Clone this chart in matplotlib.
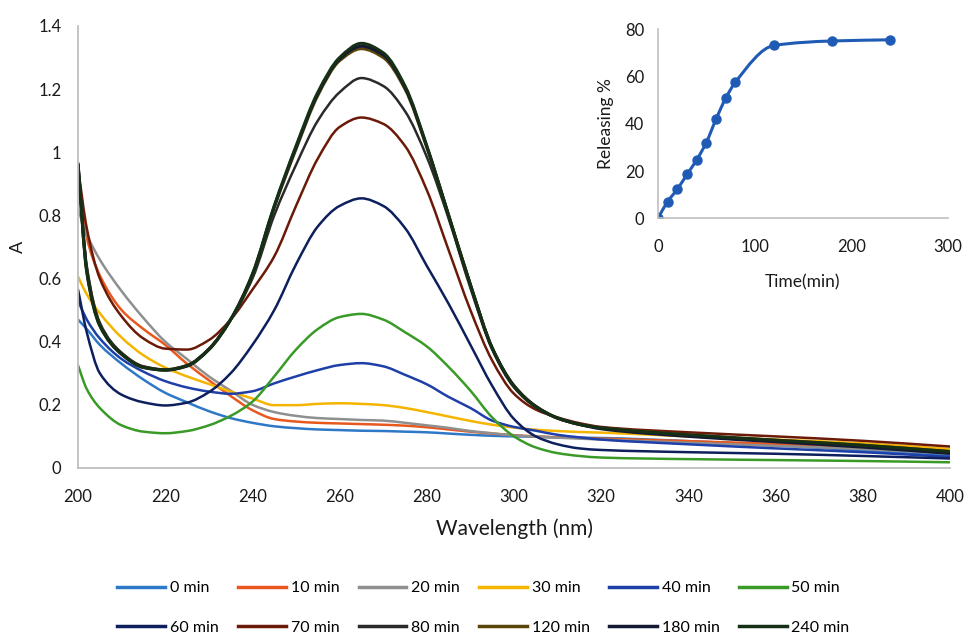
import matplotlib
matplotlib.use("Agg")
import numpy as np
import matplotlib.pyplot as plt
from matplotlib.ticker import FuncFormatter, MultipleLocator
from matplotlib.path import Path
from matplotlib.patches import PathPatch
from matplotlib.lines import Line2D

plt.rcParams['font.family'] = ['Lato', 'DejaVu Sans']

wavelength = [200, 202, 205, 210, 215, 220, 225, 230, 235, 240, 245, 250, 255, 260, 265,
              270, 275, 280, 285, 290, 295, 300, 305, 310, 315, 320, 340, 360, 380, 400]

a_0 = [0.47, 0.44, 0.39, 0.33, 0.28, 0.238, 0.208, 0.18, 0.158, 0.143, 0.132, 0.126, 0.122, 0.12, 0.118,
       0.117, 0.115, 0.113, 0.109, 0.105, 0.102, 0.1, 0.099, 0.097, 0.096, 0.095, 0.085, 0.072, 0.055, 0.038]
a_10 = [0.91, 0.73, 0.61, 0.5, 0.44, 0.39, 0.33, 0.278, 0.228, 0.183, 0.155, 0.147, 0.143, 0.141, 0.139,
        0.137, 0.134, 0.129, 0.122, 0.115, 0.109, 0.104, 0.1, 0.097, 0.095, 0.093, 0.085, 0.076, 0.066, 0.052]
a_20 = [0.82, 0.74, 0.66, 0.56, 0.475, 0.4, 0.345, 0.29, 0.245, 0.2, 0.177, 0.165, 0.158, 0.155, 0.152,
        0.15, 0.143, 0.135, 0.127, 0.117, 0.11, 0.103, 0.099, 0.096, 0.093, 0.09, 0.08, 0.07, 0.06, 0.045]
a_30 = [0.606, 0.55, 0.49, 0.413, 0.357, 0.318, 0.29, 0.266, 0.242, 0.22, 0.199, 0.199, 0.203, 0.205, 0.203,
        0.199, 0.19, 0.177, 0.163, 0.149, 0.137, 0.128, 0.121, 0.117, 0.114, 0.112, 0.1, 0.09, 0.078, 0.06]
a_40 = [0.53, 0.47, 0.41, 0.345, 0.305, 0.275, 0.255, 0.242, 0.235, 0.243, 0.268, 0.29, 0.31, 0.326, 0.332,
        0.322, 0.295, 0.265, 0.225, 0.19, 0.15, 0.13, 0.118, 0.105, 0.097, 0.09, 0.075, 0.062, 0.05, 0.035]
a_50 = [0.325, 0.25, 0.19, 0.135, 0.115, 0.11, 0.117, 0.135, 0.165, 0.21, 0.29, 0.375, 0.44, 0.478, 0.488,
        0.47, 0.43, 0.385, 0.32, 0.245, 0.16, 0.1, 0.065, 0.047, 0.038, 0.033, 0.028, 0.025, 0.022, 0.018]
a_60 = [0.565, 0.43, 0.3, 0.232, 0.208, 0.198, 0.207, 0.24, 0.3, 0.39, 0.5, 0.645, 0.765, 0.83, 0.854,
        0.83, 0.76, 0.64, 0.52, 0.39, 0.26, 0.155, 0.1, 0.075, 0.062, 0.057, 0.05, 0.045, 0.038, 0.03]
a_70 = [0.95, 0.76, 0.6, 0.48, 0.41, 0.378, 0.375, 0.405, 0.47, 0.565, 0.67, 0.83, 0.98, 1.08, 1.11,
        1.09, 1.02, 0.88, 0.69, 0.5, 0.34, 0.235, 0.185, 0.16, 0.142, 0.13, 0.113, 0.1, 0.086, 0.068]
a_80 = [0.96, 0.64, 0.46, 0.365, 0.322, 0.312, 0.326, 0.378, 0.47, 0.6, 0.8, 0.96, 1.1, 1.19, 1.235,
        1.21, 1.13, 0.985, 0.79, 0.57, 0.375, 0.255, 0.192, 0.157, 0.138, 0.126, 0.104, 0.087, 0.07, 0.05]
a_120 = [0.96, 0.63, 0.455, 0.362, 0.32, 0.311, 0.324, 0.376, 0.47, 0.61, 0.825, 1.01, 1.18, 1.29, 1.328,
         1.3, 1.2, 1.015, 0.8, 0.58, 0.38, 0.26, 0.195, 0.158, 0.138, 0.127, 0.105, 0.088, 0.072, 0.052]
a_180 = [0.962, 0.625, 0.452, 0.361, 0.319, 0.31, 0.323, 0.375, 0.47, 0.612, 0.828, 1.015, 1.185, 1.295, 1.336,
         1.308, 1.205, 1.018, 0.8, 0.58, 0.38, 0.26, 0.195, 0.158, 0.138, 0.124, 0.1, 0.083, 0.066, 0.046]
a_240 = [0.965, 0.62, 0.45, 0.36, 0.318, 0.31, 0.323, 0.375, 0.47, 0.615, 0.83, 1.02, 1.19, 1.3, 1.345,
         1.315, 1.21, 1.02, 0.8, 0.58, 0.38, 0.26, 0.195, 0.158, 0.138, 0.127, 0.105, 0.088, 0.072, 0.052]

series_labels = ['0 min', '10 min', '20 min', '30 min', '40 min', '50 min',
                 '60 min', '70 min', '80 min', '120 min', '180 min', '240 min']
series_values = [a_0, a_10, a_20, a_30, a_40, a_50, a_60, a_70, a_80, a_120, a_180, a_240]
series_colors = ['#2e78c8', '#e8581e', '#8f8f8f', '#f5b400', '#1f3fa8', '#3a9a28',
                 '#0d1f5c', '#6b1a08', '#2a2a2a', '#5c4508', '#141a33', '#163016']

release_time = [0, 10, 20, 30, 40, 50, 60, 70, 80, 120, 180, 240]
release_pct = [0, 7.1, 12.3, 18.6, 24.7, 32.1, 41.9, 50.8, 57.6, 73.2, 75.1, 75.6]


def smooth_path(xs, ys):
    """Bezier path through the data points (smoothed line, like a spreadsheet)."""
    x = np.asarray(xs, float)
    y = np.asarray(ys, float)
    h = np.diff(x)
    d = np.diff(y) / h
    m = np.zeros_like(x)
    m[0], m[-1] = d[0], d[-1]
    for i in range(1, len(x) - 1):
        if d[i - 1] * d[i] <= 0:
            m[i] = 0.0
        else:
            w1 = 2 * h[i] + h[i - 1]
            w2 = h[i] + 2 * h[i - 1]
            m[i] = (w1 + w2) / (w1 / d[i - 1] + w2 / d[i])
    verts = [(x[0], y[0])]
    codes = [Path.MOVETO]
    for i in range(len(x) - 1):
        verts += [(x[i] + h[i] / 3, y[i] + m[i] * h[i] / 3),
                  (x[i + 1] - h[i] / 3, y[i + 1] - m[i + 1] * h[i] / 3),
                  (x[i + 1], y[i + 1])]
        codes += [Path.CURVE4] * 3
    return Path(verts, codes)


fig = plt.figure(figsize=(9.67, 6.38), dpi=100)
ax = fig.add_axes([0.0807, 0.2665, 0.9017, 0.6928])

handles = []
for vals, lab, col in zip(series_values, series_labels, series_colors):
    lw = 2.2 if lab in ('120 min', '180 min', '240 min') else 1.8
    ax.add_patch(PathPatch(smooth_path(wavelength, vals), facecolor='none', edgecolor=col,
                           lw=lw, capstyle='round', joinstyle='round'))
    handles.append(Line2D([], [], color=col, lw=2.5, label=lab))

ax.set_xlim(200, 400)
ax.set_ylim(0, 1.4)
ax.xaxis.set_major_locator(MultipleLocator(20))
ax.yaxis.set_major_locator(MultipleLocator(0.2))
ax.yaxis.set_major_formatter(FuncFormatter(lambda v, p: f"{v:g}"))
for s in ('top', 'right'):
    ax.spines[s].set_visible(False)
for s in ('left', 'bottom'):
    ax.spines[s].set_color('#bfbfbf')
    ax.spines[s].set_linewidth(1.3)
ax.tick_params(axis='both', length=0, labelsize=12, colors='#1a1a1a')
ax.tick_params(axis='x', pad=15)
ax.tick_params(axis='y', pad=12)
ax.set_xlabel('Wavelength (nm)', fontsize=15, color='#1a1a1a', labelpad=10)
ax.set_ylabel('A', fontsize=13, color='#1a1a1a', labelpad=9)

# legend in row-major order (6 columns, 2 rows)
ncol = 6
order = [r * ncol + c for c in range(ncol) for r in range(2)]
leg = fig.legend([handles[i] for i in order], [series_labels[i] for i in order],
                 loc='center', bbox_to_anchor=(0.5, 0.047), ncol=ncol, frameon=False,
                 fontsize=11.5, handlelength=3.0, handletextpad=0.3, columnspacing=1.2,
                 labelspacing=1.6)

# inset
ins = fig.add_axes([0.6804, 0.6578, 0.2999, 0.2961])
ins.add_patch(PathPatch(smooth_path(release_time, release_pct), facecolor='none',
                        edgecolor='#1f5bb5', lw=2.2))
ins.plot(release_time, release_pct, linestyle='none', color='#1f5bb5', marker='o', markersize=6.5)
ins.set_xlim(0, 300)
ins.set_ylim(0, 80)
ins.xaxis.set_major_locator(MultipleLocator(100))
ins.yaxis.set_major_locator(MultipleLocator(20))
for s in ('top', 'right'):
    ins.spines[s].set_visible(False)
for s in ('left', 'bottom'):
    ins.spines[s].set_color('#bfbfbf')
    ins.spines[s].set_linewidth(1.2)
ins.tick_params(axis='both', length=0, labelsize=12, colors='#1a1a1a')
ins.tick_params(axis='x', pad=15)
ins.tick_params(axis='y', pad=10)
ins.set_xlabel('Time(min)', fontsize=12.5, color='#1a1a1a', labelpad=14)
ins.set_ylabel('Releasing %', fontsize=12.5, color='#1a1a1a', labelpad=8)
ins.patch.set_alpha(0)

fig.savefig('out.png', dpi=100)
